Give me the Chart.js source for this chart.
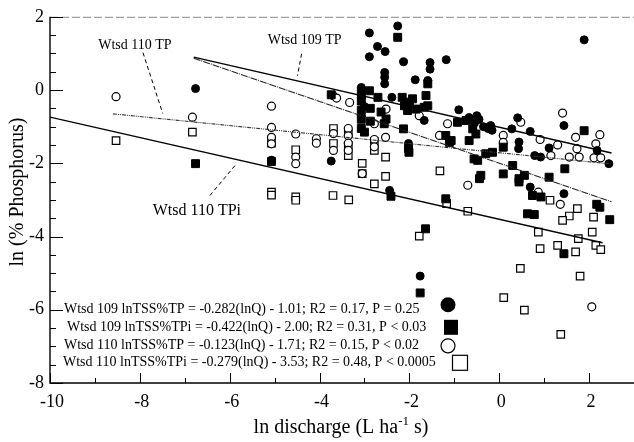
<!DOCTYPE html>
<html>
<head>
<meta charset="utf-8">
<script src="https://cdn.jsdelivr.net/npm/chart.js@4.4.0/dist/chart.umd.min.js"></script>
<style>
html,body{margin:0;padding:0;background:#fff;}
</style>
</head>
<body>
<canvas id="des" width="634" height="442"></canvas>
<script>
// Wtsd 109 TP (filled circles)
var tp109 = [[-6.76,0.04],[-2.26,1.75],[-2.89,1.56],[-2.71,1.19],[-2.54,1.05],[-2.89,0.91],[-2.13,0.77],[-1.18,0.83],
  [-1.54,0.75],[-1.54,0.57],[-2.55,0.48],[-2.55,0.35],[-2.55,0.17],[-1.87,0.28],[-1.59,0.26],[1.89,1.37],
  [-3.07,0.07],[-3.07,-0.2],[-3.0,-0.45],[-3.07,-0.7],[-2.39,-0.2],[-1.67,-0.83],[-0.9,-0.54],[-3.74,-1.94],
  [-0.67,-0.75],[-0.55,-0.9],[-0.45,-0.8],[-0.35,-1.0],[-0.25,-1.05],[-0.16,-1.1],[-0.5,-0.7],[-0.19,-0.97],
  [0.41,-0.76],[0.28,-1.06],[0.44,-1.42],[0.43,-1.6],[0.69,-1.13],[1.44,-0.97],[1.11,-1.58],[0.79,-1.79],
  [0.92,-1.83],[1.44,-2.83],[2.18,-1.65],[2.44,-2.01],[-2.44,-2.74],[-1.76,-5.08],[-2.02,-1.46],[0.69,-2.65]];
// Wtsd 109 TPi (filled squares)
var tpi109 = [[-6.76,-2.01],[-5.07,-1.95],[-2.26,1.44],[-3.07,-0.05],[-3.07,-0.3],[-3.07,-0.55],[-3.07,-0.8],
  [-3.07,-1.05],[-3.0,-1.15],[-2.89,-0.02],[-2.7,-0.2],[-2.87,-0.5],[-2.87,-0.85],[-2.56,-0.92],[-2.16,-0.2],
  [-2.11,-0.43],[-1.93,-0.24],[-2.04,-0.56],[-1.85,-0.52],[-1.63,-0.15],[-1.59,0.17],[-1.67,-0.47],[-2.13,-1.06],
  [-2.02,-1.6],[-1.07,-1.38],[-1.19,-1.24],[-0.93,-0.88],[-0.67,-1.38],[-0.52,-1.2],[-0.56,-1.88],[-0.48,-1.92],
  [-0.3,-1.74],[-0.15,-1.7],[-0.41,-2.33],[-0.44,-2.42],[0.09,-1.56],[0.09,-2.29],[0.3,-2.06],[0.44,-2.42],
  [0.44,-2.51],[0.56,-2.33],[0.74,-2.88],[1.11,-2.38],[1.46,-2.15],[1.89,-1.11],[2.17,-3.12],[2.24,-3.2],
  [2.46,-3.54],[-1.19,-2.97],[-2.41,-2.9],[0.63,-3.38],[0.78,-3.4],[0.93,-2.92],[1.44,-4.47],[-1.64,-3.79],
  [-1.76,-5.54],[-2.01,-1.7],[-2.63,-0.6],[-2.52,-0.79],[-1.11,-1.43],[-0.74,-0.83],[-0.59,-1.06],[-2.0,-0.33],
  [-1.59,-0.43],[-3.74,-0.13]];
// Wtsd 110 TP (open circles)
var tp110 = [[-8.53,-0.18],[-6.83,-0.74],[-5.07,-0.44],[-5.07,-1.02],[-5.07,-1.29],[-5.07,-1.47],[-5.07,-1.92],
  [-4.53,-1.2],[-4.53,-1.83],[-4.53,-2.01],[-4.07,-1.33],[-4.07,-1.45],[-3.69,-1.19],[-3.69,-1.65],[-3.36,-1.05],
  [-3.36,-1.25],[-3.36,-1.45],[-3.36,-1.65],[-2.78,-1.35],[-2.78,-1.55],[-2.53,-1.29],[-3.05,-2.28],[-3.7,-0.15],
  [-3.62,-0.22],[-3.33,-0.34],[-2.78,-0.92],[-2.52,-0.52],[-1.78,-0.7],[-1.33,-1.24],[-1.15,-0.92],[-0.7,-2.6],
  [1.41,-0.63],[0.09,-1.24],[0.09,-1.43],[0.48,-0.88],[0.91,-1.35],[1.3,-1.5],[1.7,-1.29],[2.24,-1.22],
  [2.15,-1.47],[1.73,-1.6],[1.15,-1.79],[1.56,-1.83],[1.78,-1.83],[2.11,-1.85],[2.26,-1.85],[0.87,-2.79],
  [1.36,-3.12],[2.06,-5.92]];
// Wtsd 110 TPi (open squares)
var tpi110 = [[-8.53,-1.38],[-6.83,-1.15],[-4.53,-1.63],[-5.07,-1.45],[-5.07,-2.79],[-5.07,-2.87],[-4.53,-2.92],
  [-4.53,-3.01],[-3.69,-1.05],[-3.69,-1.46],[-3.36,-1.19],[-3.36,-1.52],[-3.36,-1.79],[-2.78,-1.41],[-2.78,-1.65],
  [-2.53,-1.83],[-3.05,-2.0],[-3.05,-2.28],[-2.53,-2.36],[-2.78,-2.56],[-3.7,-2.88],[-3.35,-3.0],[-1.32,-2.21],
  [-1.17,-3.1],[-0.7,-3.31],[-1.78,-3.99],[1.13,-3.01],[1.74,-3.24],[1.56,-3.44],[1.41,-3.56],[2.1,-3.47],
  [0.87,-3.88],[1.76,-4.06],[2.07,-3.88],[2.15,-4.24],[2.26,-4.36],[0.91,-4.33],[1.3,-4.24],[1.7,-4.42],
  [0.47,-4.87],[1.8,-5.08],[0.1,-5.67],[0.56,-6.01],[1.37,-6.67]];

// regression line end points
var line109tp = [[-6.8,0.9],[2.5,-1.72]];
var line109tpi = [[-6.8,0.87],[2.5,-3.05]];
var line110tp = [[-8.6,-0.65],[2.5,-2.02]];
var line110tpi = [[-10,-0.74],[2.3,-4.17]];

var xTicks = [-10,-8,-6,-4,-2,0,2];
var yTicks = [-8,-6,-4,-2,0,2];

var legendLines = [
  'Wtsd 109 lnTSS%TP = -0.282(lnQ) - 1.01; R2 = 0.17, P = 0.25',
  'Wtsd 109 lnTSS%TPi = -0.422(lnQ) - 2.00; R2 = 0.31, P < 0.03',
  'Wtsd 110 lnTSS%TP = -0.123(lnQ) - 1.71; R2 = 0.15, P < 0.02',
  'Wtsd 110 lnTSS%TPi = -0.279(lnQ) - 3.53; R2 = 0.48, P < 0.0005'
];
// label text, label position, leader start, leader end (data units), font size
var notes = [
  ['Wtsd 110 TP', [-8.11,1.21], [-7.93,1.02], [-7.49,-0.64], 14],
  ['Wtsd 109 TP', [-4.33,1.35], [-4.4,0.99], [-4.49,0.39], 14],
  ['Wtsd 110 TPi', [-6.73,-3.29], [-6.44,-2.88], [-5.84,-2.0], 16]
];

var serif = "'Liberation Serif', 'Times New Roman', serif";
function pts(a){ return a.map(function(p){ return {x:p[0], y:p[1]}; }); }

var decor = {
  id: 'decor',
  afterDraw: function(chart){
    var c = chart.ctx, a = chart.chartArea, xs = chart.scales.x, ys = chart.scales.y;
    c.save();
    // top border
    c.strokeStyle = '#888'; c.lineWidth = 1; c.setLineDash([8,3]);
    c.beginPath(); c.moveTo(a.left, a.top + 0.5); c.lineTo(a.right, a.top + 0.5); c.stroke();
    c.setLineDash([]);
    // axes
    c.strokeStyle = '#000'; c.lineWidth = 1.4;
    c.beginPath(); c.moveTo(a.left, a.top); c.lineTo(a.left, a.bottom); c.lineTo(a.right, a.bottom); c.stroke();
    c.lineWidth = 1;
    xs.ticks.forEach(function(t){
      var px = Math.round(xs.getPixelForValue(t.value)) + 0.5;
      var len = (t.value % 2 === 0) ? 10 : 5;
      c.beginPath(); c.moveTo(px, a.bottom); c.lineTo(px, a.bottom - len); c.stroke();
    });
    ys.ticks.forEach(function(t){
      var py = Math.round(ys.getPixelForValue(t.value)) + 0.5;
      var len = (t.value % 2 === 0) ? 13 : 6;
      c.beginPath(); c.moveTo(a.left, py); c.lineTo(a.left + len, py); c.stroke();
    });
    // x tick labels
    c.fillStyle = '#000';
    c.font = '18px ' + serif; c.textAlign = 'center'; c.textBaseline = 'middle';
    xTicks.forEach(function(v){ c.fillText(String(v), xs.getPixelForValue(v) + 2, a.bottom + 19); });
    // notes with dashed leaders
    notes.forEach(function(n){
      c.font = n[4] + 'px ' + serif;
      c.fillText(n[0], xs.getPixelForValue(n[1][0]), ys.getPixelForValue(n[1][1]));
      c.setLineDash([4,3]); c.lineWidth = 1;
      c.beginPath();
      c.moveTo(xs.getPixelForValue(n[2][0]), ys.getPixelForValue(n[2][1]));
      c.lineTo(xs.getPixelForValue(n[3][0]), ys.getPixelForValue(n[3][1]));
      c.stroke();
      c.setLineDash([]);
    });
    // equations block
    var lx = [14,17,14,13], ly = [293,311,329,346];
    c.textAlign = 'left'; c.font = '14px ' + serif;
    legendLines.forEach(function(s, i){ c.fillText(s, a.left + lx[i], a.top + ly[i]); });
    c.lineWidth = 1.2;
    c.beginPath(); c.arc(a.left + 398, a.top + 288, 7.5, 0, Math.PI * 2); c.fill();
    c.fillRect(a.left + 394, a.top + 303, 14, 15);
    c.beginPath(); c.arc(a.left + 398, a.top + 329, 7, 0, Math.PI * 2); c.stroke();
    c.strokeRect(a.left + 402.5, a.top + 338.5, 15, 15);
    // axis titles
    c.textBaseline = 'alphabetic';
    var t1 = 'ln discharge (L ha', t2 = '-1', t3 = ' s)';
    c.font = '20px ' + serif; var w1 = c.measureText(t1).width, w3 = c.measureText(t3).width;
    c.font = '13px ' + serif; var w2 = c.measureText(t2).width;
    var sx = 341 - (w1 + w2 + w3) / 2, by = 433;
    c.font = '20px ' + serif; c.fillText(t1, sx, by);
    c.font = '13px ' + serif; c.fillText(t2, sx + w1, by - 8);
    c.font = '20px ' + serif; c.fillText(t3, sx + w1 + w2, by);
    c.translate(18, 192); c.rotate(-Math.PI / 2);
    c.textAlign = 'center'; c.textBaseline = 'middle';
    c.fillText('ln (% Phosphorus)', 0, 0);
    c.restore();
  }
};

var ctx = document.querySelector('#des');
var chart = new Chart(ctx, {
  type: 'scatter',
  data: {
    datasets: [
      { label: 'Wtsd 109 TP', data: pts(tp109), pointStyle: 'circle', pointRadius: 4,
        backgroundColor: '#000', borderColor: '#000', borderWidth: 1, order: 1 },
      { label: 'Wtsd 109 TPi', data: pts(tpi109), pointStyle: 'rect', pointRadius: 5.6,
        backgroundColor: '#000', borderColor: '#000', borderWidth: 1, order: 2 },
      { label: 'Wtsd 110 TP', data: pts(tp110), pointStyle: 'circle', pointRadius: 4,
        backgroundColor: '#fff', borderColor: '#000', borderWidth: 1.2, order: 3 },
      { label: 'Wtsd 110 TPi', data: pts(tpi110), pointStyle: 'rect', pointRadius: 5.3,
        backgroundColor: '#fff', borderColor: '#000', borderWidth: 1.2, order: 4 },
      { type: 'line', data: pts(line109tp), showLine: true, pointRadius: 0, borderColor: '#000',
        borderWidth: 1.4, order: 0 },
      { type: 'line', data: pts(line109tpi), showLine: true, pointRadius: 0, borderColor: '#222',
        borderWidth: 1.1, borderDash: [7,1,1,1], order: 0 },
      { type: 'line', data: pts(line110tp), showLine: true, pointRadius: 0, borderColor: '#333',
        borderWidth: 1.1, borderDash: [4,1,1,1,1,1], order: 0 },
      { type: 'line', data: pts(line110tpi), showLine: true, pointRadius: 0, borderColor: '#000',
        borderWidth: 1.4, order: 0 }
    ]
  },
  options: {
    responsive: false,
    devicePixelRatio: 1,
    animation: false,
    layout: { autoPadding: false, padding: { top: 16, right: 0, left: 0, bottom: 0 } },
    plugins: { legend: { display: false }, tooltip: { enabled: false } },
    scales: {
      x: {
        type: 'linear', min: -10, max: 3,
        grid: { display: false, drawTicks: false },
        border: { display: false },
        ticks: { stepSize: 1, autoSkip: false, display: false },
        afterFit: function(s){ s.height = 59; }
      },
      y: {
        type: 'linear', min: -8, max: 2,
        grid: { display: false, drawTicks: false },
        border: { display: false },
        ticks: { stepSize: 0.5, autoSkip: false, padding: 6, color: '#000',
          font: { family: serif, size: 18 },
          callback: function(v){ return yTicks.indexOf(v) >= 0 ? String(v) : ''; } },
        afterFit: function(s){ s.width = 50; }
      }
    }
  },
  plugins: [decor]
});
</script>
</body>
</html>
